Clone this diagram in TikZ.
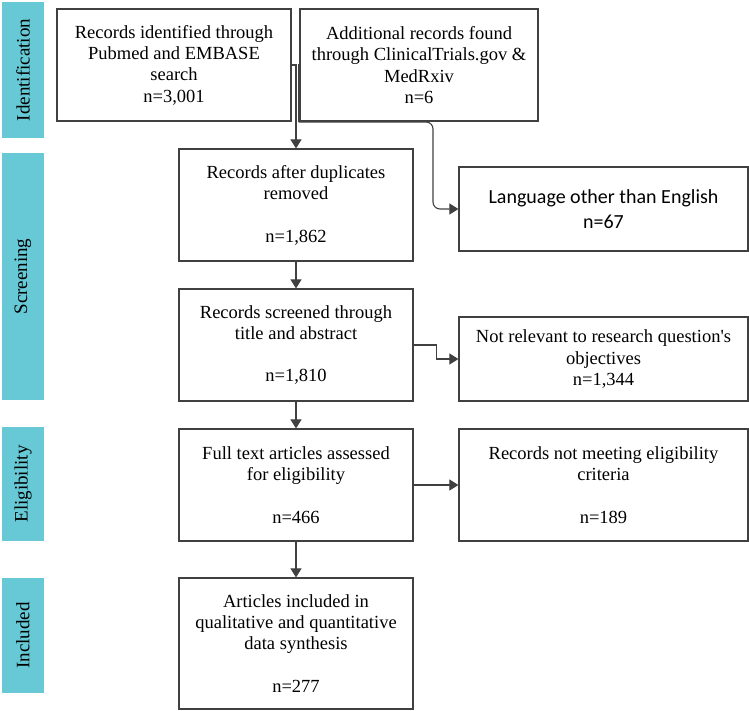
\documentclass[tikz,border=0pt]{standalone}
\usepackage{fontspec}
\setmainfont{Liberation Serif}
\newfontfamily\calibri{Carlito}
\usetikzlibrary{arrows.meta}
\definecolor{bandteal}{RGB}{102,201,213}
\definecolor{linegray}{RGB}{64,64,64}

\begin{document}
\begin{tikzpicture}[x=1pt,y=-1pt,
  box/.style={draw=linegray,line width=1.2pt,inner sep=0pt,align=center,minimum width=234pt,minimum height=112pt,font=\fontsize{18.5}{21.3}\selectfont},
  widebox/.style={box,minimum width=289pt},
  band/.style={fill=bandteal,rotate=90,inner sep=0pt,minimum height=42pt,font=\fontsize{19}{22}\selectfont},
  arr/.style={draw=linegray,line width=1.1pt,-{Triangle[length=9pt,width=11pt]}}]
  \useasboundingbox (0,0) rectangle (749,710);

  \node[band,minimum width=136pt] (identband) at (23,70) {Identification};
  \node[band,minimum width=247pt] (screenband) at (23,276.5) {Screening};
  \node[band,minimum width=114pt] (eligband) at (23,484) {Eligibility};
  \node[band,minimum width=115pt] (inclband) at (23,635.5) {Included};

  \node[box] (pubmed) at (174,65) {Records identified through\\Pubmed and EMBASE\\search\\n=3,001};
  \node[box,minimum width=238pt] (extra) at (419,65) {Additional records found\\through ClinicalTrials.gov \&\\MedRxiv\\n=6};
  \node[box] (dedup) at (296,205) {Records after duplicates\\removed\\[21.3pt]n=1,862};
  \node[widebox,minimum height=84pt,font=\calibri\fontsize{20}{25.5}\selectfont] (lang) at (603.5,209) {Language other than English\\n=67};
  \node[box] (screened) at (296,345) {Records screened through\\title and abstract\\[21.3pt]n=1,810};
  \node[widebox,minimum height=84pt] (notrel) at (603.5,359) {Not relevant to research question\textquotesingle s\\objectives\\n=1,344};
  \node[box] (fulltext) at (296,485) {Full text articles assessed\\for eligibility\\[21.3pt]n=466};
  \node[widebox] (noteligible) at (603.5,485) {Records not meeting eligibility\\criteria\\[21.3pt]n=189};
  \node[box,minimum height=131pt] (included) at (296,643.5) {Articles included in\\qualitative and quantitative\\data synthesis\\[21.3pt]n=277};

  \coordinate (split) at (298.5,122);
  \coordinate (turn) at (433,122);

  \draw[arr] (pubmed.east) -| (dedup.north);
  \draw[linegray,line width=1.1pt] (extra.west) -| (split);
  \draw[arr,rounded corners=7pt] (split) -- (turn) |- (lang.west);
  \draw[arr] (dedup.south) -- (screened.north);
  \draw[arr] (screened.east) -- ++(23,0) |- (notrel.west);
  \draw[arr] (screened.south) -- (fulltext.north);
  \draw[arr] (fulltext.east) -- (noteligible.west);
  \draw[arr] (fulltext.south) -- (included.north);
\end{tikzpicture}
\end{document}
